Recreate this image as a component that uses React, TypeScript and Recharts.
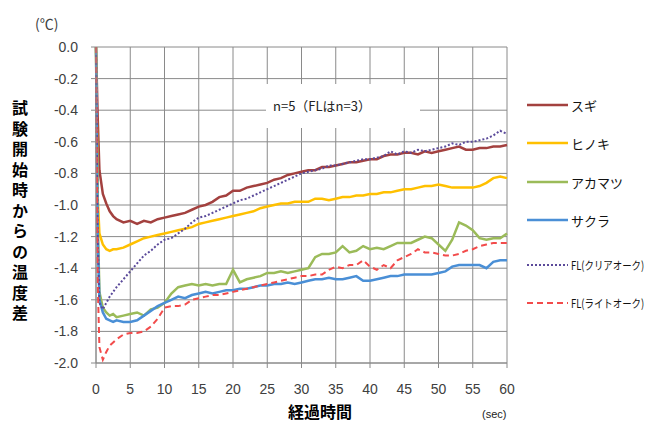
// Temperature drop after contact: wood species vs flooring, 0–60 sec

import { LineChart, Line, XAxis, YAxis, CartesianGrid } from 'recharts'

const TIME = [
  0, 0.25, 0.5, 1, 1.5, 2, 2.5, 3, 4, 5, 6, 7, 8, 9, 10, 11, 12, 13, 14, 15, 16, 17, 18, 19, 20,
  21, 22, 23, 24, 25, 26, 27, 28, 29, 30, 31, 32, 33, 34, 35, 36, 37, 38, 39, 40,
  41, 42, 43, 44, 45, 46, 47, 48, 49, 50, 51, 52, 53, 54, 55, 56, 57, 58, 59, 60,
]

const SUGI = [
  0, -0.45, -0.78, -0.93, -0.99, -1.04, -1.07, -1.09, -1.11, -1.1, -1.12, -1.1, -1.11, -1.09, -1.08,
  -1.07, -1.06, -1.05, -1.03, -1.01, -1.0, -0.98, -0.95, -0.94, -0.91,
  -0.91, -0.89, -0.88, -0.87, -0.86, -0.84, -0.83, -0.81, -0.8, -0.79,
  -0.78, -0.78, -0.76, -0.76, -0.75, -0.74, -0.73, -0.73, -0.72, -0.71,
  -0.71, -0.69, -0.68, -0.68, -0.67, -0.67, -0.68, -0.66, -0.67, -0.66,
  -0.65, -0.64, -0.63, -0.65, -0.65, -0.64, -0.64, -0.63, -0.63, -0.62,
]

const HINOKI = [
  0, -0.95, -1.18, -1.25, -1.28, -1.29, -1.28, -1.28, -1.27, -1.25, -1.23, -1.21, -1.2, -1.19, -1.18,
  -1.17, -1.16, -1.15, -1.14, -1.12, -1.11, -1.1, -1.09, -1.08, -1.07,
  -1.06, -1.05, -1.04, -1.02, -1.01, -1.0, -0.99, -0.99, -0.98, -0.98,
  -0.98, -0.96, -0.96, -0.97, -0.96, -0.95, -0.95, -0.94, -0.94, -0.93,
  -0.93, -0.92, -0.92, -0.91, -0.9, -0.9, -0.89, -0.88, -0.88, -0.87,
  -0.88, -0.89, -0.89, -0.89, -0.89, -0.88, -0.86, -0.83, -0.82, -0.83,
]

const AKAMATSU = [
  0, -1.1, -1.55, -1.65, -1.68, -1.7, -1.69, -1.71, -1.7, -1.69, -1.68, -1.7, -1.66, -1.65, -1.62,
  -1.56, -1.52, -1.51, -1.5, -1.51, -1.5, -1.51, -1.5, -1.5, -1.41,
  -1.49, -1.47, -1.46, -1.45, -1.43, -1.43, -1.42, -1.43, -1.42, -1.41,
  -1.4, -1.33, -1.31, -1.31, -1.3, -1.26, -1.3, -1.29, -1.26, -1.28,
  -1.27, -1.28, -1.26, -1.24, -1.24, -1.24, -1.22, -1.2, -1.21, -1.25,
  -1.29, -1.22, -1.11, -1.13, -1.16, -1.21, -1.22, -1.21, -1.21, -1.18,
]

const SAKURA = [
  0, -1.2, -1.6, -1.68, -1.72, -1.73, -1.74, -1.73, -1.74, -1.74, -1.73, -1.7, -1.67, -1.64, -1.62,
  -1.6, -1.58, -1.59, -1.57, -1.56, -1.55, -1.56, -1.55, -1.54, -1.54,
  -1.53, -1.53, -1.52, -1.51, -1.51, -1.5, -1.5, -1.49, -1.5, -1.49,
  -1.48, -1.47, -1.47, -1.46, -1.47, -1.47, -1.46, -1.45, -1.48, -1.48,
  -1.47, -1.46, -1.45, -1.45, -1.44, -1.44, -1.44, -1.44, -1.44, -1.43,
  -1.42, -1.39, -1.38, -1.38, -1.38, -1.38, -1.4, -1.36, -1.35, -1.35,
]

const FL_CLEAR = [
  0, -1.2, -1.62, -1.66, -1.62, -1.58, -1.55, -1.52, -1.47, -1.42, -1.37, -1.32, -1.29, -1.25, -1.22,
  -1.21, -1.18, -1.15, -1.11, -1.08, -1.07, -1.05, -1.03, -1.01, -0.99,
  -0.97, -0.96, -0.94, -0.92, -0.9, -0.88, -0.86, -0.84, -0.82, -0.8,
  -0.79, -0.78, -0.77, -0.75, -0.75, -0.74, -0.73, -0.72, -0.71, -0.71,
  -0.7, -0.69, -0.66, -0.68, -0.66, -0.67, -0.65, -0.66, -0.65, -0.64,
  -0.63, -0.61, -0.62, -0.6, -0.6, -0.59, -0.58, -0.56, -0.53, -0.55,
]

const FL_LIGHT = [
  0, -1.5, -1.9, -1.98, -1.93, -1.89, -1.87, -1.85, -1.82, -1.81, -1.81, -1.8, -1.77, -1.72, -1.65,
  -1.64, -1.64, -1.63, -1.6, -1.59, -1.58, -1.57, -1.57, -1.56, -1.55,
  -1.54, -1.53, -1.52, -1.51, -1.5, -1.49, -1.48, -1.47, -1.46, -1.45,
  -1.45, -1.44, -1.44, -1.41, -1.39, -1.4, -1.38, -1.38, -1.35, -1.39,
  -1.41, -1.38, -1.4, -1.35, -1.33, -1.31, -1.28, -1.3, -1.3, -1.31,
  -1.32, -1.32, -1.31, -1.29, -1.28, -1.26, -1.25, -1.24, -1.24, -1.24,
]

const X_TICKS = [0, 5, 10, 15, 20, 25, 30, 35, 40, 45, 50, 55, 60]
const Y_TICKS = [0, -0.2, -0.4, -0.6, -0.8, -1.0, -1.2, -1.4, -1.6, -1.8, -2.0]

const SERIES = [
  { key: 'sugi', name: 'スギ', color: '#a3413f', width: 2.5, dash: undefined, y: 105, small: false },
  { key: 'hinoki', name: 'ヒノキ', color: '#ffc000', width: 2.5, dash: undefined, y: 143, small: false },
  { key: 'akamatsu', name: 'アカマツ', color: '#9bbb59', width: 2.5, dash: undefined, y: 182, small: false },
  { key: 'sakura', name: 'サクラ', color: '#4a8fd6', width: 2.5, dash: undefined, y: 220, small: false },
  { key: 'flClear', name: 'FL(クリアオーク)', color: '#5b4a9a', width: 2, dash: '2 2', y: 265, small: true },
  { key: 'flLight', name: 'FL(ライトオーク)', color: '#f24b4b', width: 2, dash: '6 4', y: 303, small: true },
]

const data = TIME.map((t, i) => ({
  t,
  sugi: SUGI[i],
  hinoki: HINOKI[i],
  akamatsu: AKAMATSU[i],
  sakura: SAKURA[i],
  flClear: FL_CLEAR[i],
  flLight: FL_LIGHT[i],
}))

const Y_LABEL = '試験開始時からの温度差'
const JP = '"Noto Sans CJK JP", "Noto Sans", sans-serif'
const NUM = '"Liberation Sans", Arial, sans-serif'

export default function App() {
  return (
    <div style={{ position: 'absolute', left: 0, top: 0, width: 654, height: 423, background: '#fff' }}>
      <LineChart width={654} height={423} data={data} margin={{ top: 47, right: 147, bottom: 30, left: 0 }}>
        <CartesianGrid stroke="#8a8a8a" strokeWidth={1} />
        <XAxis
          dataKey="t"
          type="number"
          domain={[0, 60]}
          ticks={X_TICKS}
          interval={0}
          height={30}
          stroke="#8a8a8a"
          tickSize={5}
          tick={{ fill: '#404040', fontSize: 14, fontFamily: NUM }}
          tickMargin={16}
        />
        <YAxis
          type="number"
          domain={[-2, 0]}
          ticks={Y_TICKS}
          interval={0}
          width={96}
          stroke="#8a8a8a"
          tickSize={5}
          tickMargin={13}
          tick={{ fill: '#404040', fontSize: 14, fontFamily: NUM }}
          tickFormatter={(v: number) => (Math.abs(v) < 1e-9 ? '0.0' : v.toFixed(1))}
        />
        {SERIES.map((s) => (
          <Line
            key={s.key}
            dataKey={s.key}
            type="linear"
            stroke={s.color}
            strokeWidth={s.width}
            strokeDasharray={s.dash}
            dot={false}
            isAnimationActive={false}
          />
        ))}
      </LineChart>

      {/* unit */}
      <div style={{ position: 'absolute', left: 35, top: 13, fontFamily: JP, fontSize: 14, color: '#404040' }}>
        (℃)
      </div>

      {/* vertical axis title */}
      <div
        style={{
          position: 'absolute', left: 8, top: 100, width: 24, writingMode: 'vertical-rl',
          fontFamily: JP, fontSize: 16, fontWeight: 700, color: '#000', letterSpacing: 4.5, lineHeight: '24px',
        }}
      >
        {Y_LABEL}
      </div>

      {/* sample note */}
      <div
        style={{
          position: 'absolute', left: 266, top: 84, width: 154, height: 44, background: '#fff',
          fontFamily: JP, fontSize: 13, color: '#222', lineHeight: '44px', paddingLeft: 7, boxSizing: 'border-box',
        }}
      >
        n=5（FLはn=3）
      </div>

      {/* x axis title */}
      <div
        style={{
          position: 'absolute', left: 280, top: 401, width: 80, height: 20, lineHeight: '20px',
          textAlign: 'center', fontFamily: JP, fontSize: 16, fontWeight: 700,
        }}
      >
        経過時間
      </div>
      <div style={{ position: 'absolute', left: 482, top: 408, fontFamily: NUM, fontSize: 11, color: '#222' }}>
        (sec)
      </div>

      {/* legend */}
      <svg style={{ position: 'absolute', left: 0, top: 0 }} width={654} height={423}>
        {SERIES.map((s) => (
          <g key={s.key}>
            <line
              x1={527} x2={568} y1={s.y} y2={s.y}
              stroke={s.color} strokeWidth={s.width} strokeDasharray={s.dash}
            />
            <text
              transform={`translate(571 ${s.y}) scale(${s.small ? 0.82 : 1} 1)`}
              dominantBaseline="central"
              style={{ fontFamily: JP, fontSize: s.small ? 11.5 : 13, fill: '#111' }}
            >
              {s.name}
            </text>
          </g>
        ))}
      </svg>
    </div>
  )
}
